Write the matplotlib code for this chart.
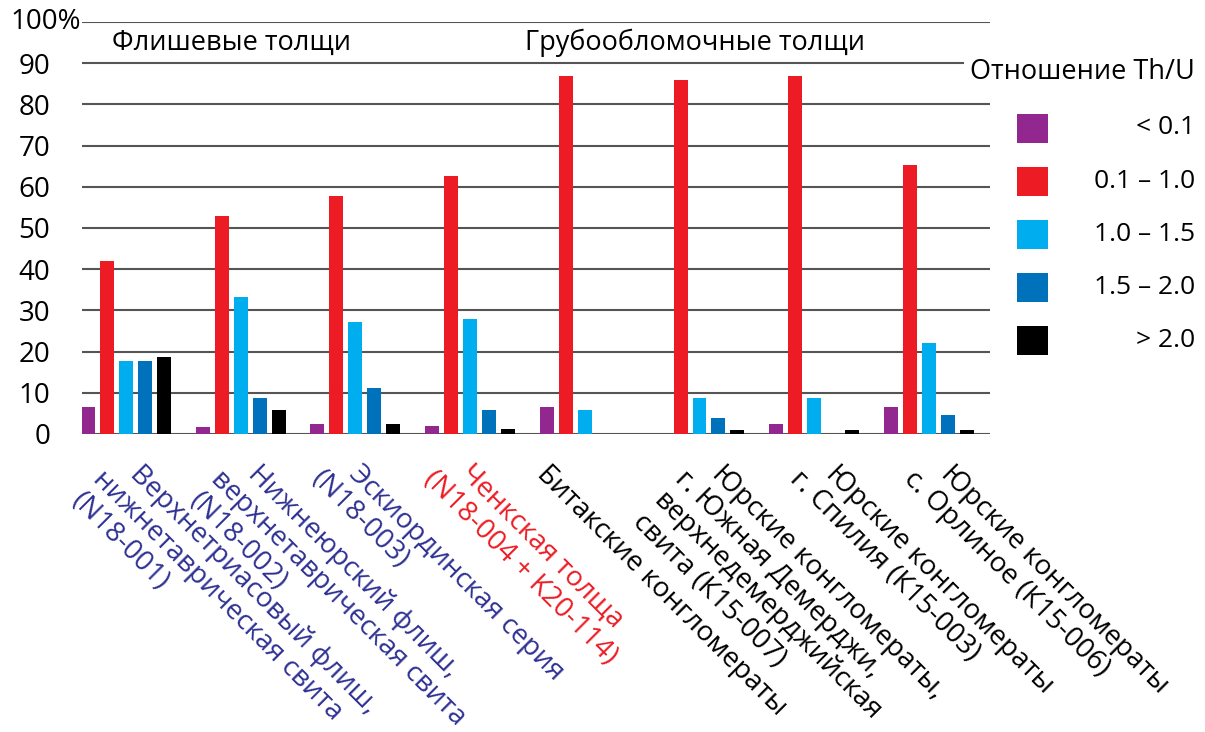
import matplotlib
matplotlib.use("Agg")
import matplotlib.pyplot as plt
from matplotlib.patches import Rectangle
from matplotlib.transforms import offset_copy
import numpy as np

plt.rcParams['font.family'] = ['Open Sans', 'DejaVu Sans']

# ---------------- data ----------------
group_labels = [
    ["Верхнетриасовый флиш,", "нижнетаврическая свита", "(N18-001)"],
    ["Нижнеюрский флиш,", "верхнетаврическая свита", "(N18-002)"],
    ["Эскиординская серия", "(N18-003)"],
    ["Ченкская толща", "(N18-004 + K20-114)"],
    ["Битакские конгломераты"],
    ["Юрские конгломераты,", "г. Южная Демерджи,", "верхнедемерджийская", "свита (К15-007)"],
    ["Юрские конгломераты", "г. Спилия (К15-003)"],
    ["Юрские конгломераты", "с. Орлиное (К15-006)"],
]
label_colors = ["#2e3192", "#2e3192", "#2e3192", "#ed1c24",
                "#000000", "#000000", "#000000", "#000000"]

series_names = ["< 0.1", "0.1 – 1.0", "1.0 – 1.5", "1.5 – 2.0", "> 2.0"]
series_colors = ["#92278f", "#ed1c24", "#00aeef", "#0072bc", "#000000"]

lt_01   = [6.5, 1.7, 2.4, 1.9, 6.5, 0.0, 2.4, 6.5]
r01_10  = [42.0, 53.0, 57.8, 62.7, 87.0, 86.0, 87.0, 65.3]
r10_15  = [17.7, 33.2, 27.2, 28.0, 5.8, 8.7, 8.7, 22.0]
r15_20  = [17.7, 8.7, 11.1, 5.8, 0.0, 3.9, 0.0, 4.5]
gt_20   = [18.8, 5.8, 2.4, 1.1, 0.0, 1.0, 1.0, 1.0]
series_values = [lt_01, r01_10, r10_15, r15_20, gt_20]

y_ticks = [0, 10, 20, 30, 40, 50, 60, 70, 80, 90, 100]
y_tick_labels = ["0", "10", "20", "30", "40", "50", "60", "70", "80", "90", ""]
top_label = "100%"
headings = ["Флишевые толщи", "Грубообломочные толщи"]
legend_title = "Отношение Th/U"

# ---------------- layout ----------------
W, H = 1205, 732
fig = plt.figure(figsize=(W / 100, H / 100), dpi=100)
ax = fig.add_axes([82 / W, (H - 434) / H, (990 - 82) / W, (434 - 22) / H])

n_groups = len(group_labels)
x = np.arange(n_groups)
step = 0.1656
bar_w = 0.122

for k, (vals, col) in enumerate(zip(series_values, series_colors)):
    ax.bar(x + (k - 2) * step, vals, width=bar_w, color=col, zorder=3,
           linewidth=0)

ax.set_xlim(-0.3836, 7.5327)
ax.set_ylim(0, 100)
ax.set_axisbelow(True)
ax.yaxis.grid(True, color="#555555", linewidth=1.5)
ax.set_yticks(y_ticks)
ax.set_yticklabels(y_tick_labels, fontsize=20)
ax.tick_params(axis='y', length=0, pad=23)
ax.set_xticks([])
for s in ax.spines.values():
    s.set_visible(False)

fig.text(10 / W, 1 - 22 / H, top_label, ha='left', va='center', fontsize=20)

# headings
ax.text(0.924, 95, headings[0], ha='center', va='center', fontsize=19.5)
ax.text(4.96, 95, headings[1], ha='center', va='center', fontsize=19.5)

# rotated multi-line category labels
label_shift = [-8, -5, -19, -22, -60, 0, 0, 0]
c = 0.7071
base = ax.get_xaxis_transform()
for i, lines in enumerate(group_labels):
    for k, line in enumerate(lines):
        along = 0 if k == 0 else -22
        perp = 30 * k
        dx = 26 + label_shift[i] + along * c - perp * c
        dy_down = 26 + along * c + perp * c
        tr = offset_copy(base, fig=fig, x=dx, y=-dy_down, units='dots')
        ax.text(x[i], 0, line, transform=tr, rotation=-45,
                rotation_mode='anchor', ha='left', va='top',
                fontsize=20, color=label_colors[i], clip_on=False)

# legend (manual)
fig.text(1195 / W, 1 - 72 / H, legend_title, ha='right', va='center',
         fontsize=19.5, zorder=5,
         bbox=dict(facecolor='white', edgecolor='none', pad=4))
for k, (name, col) in enumerate(zip(series_names, series_colors)):
    yc = 128 + 53.2 * k
    fig.add_artist(Rectangle((1017 / W, 1 - (yc + 14.5) / H), 31 / W, 29 / H,
                             transform=fig.transFigure, color=col, linewidth=0))
    fig.text(1195 / W, 1 - yc / H, name, ha='right', va='center', fontsize=19)

fig.savefig("out.png", dpi=100, facecolor='white')
